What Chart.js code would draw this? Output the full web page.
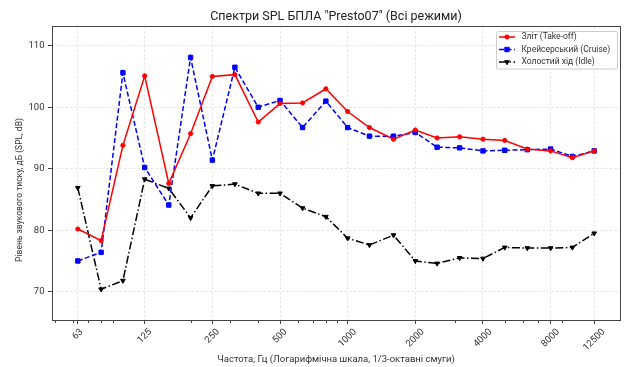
<!DOCTYPE html>
<html>
<head>
<meta charset="utf-8">
<script src="https://cdn.jsdelivr.net/npm/chart.js@4.4.1/dist/chart.umd.min.js"></script>
<style>
  html, body { margin: 0; padding: 0; background: #ffffff; }
  #wrap { width: 625px; height: 367px; }
</style>
</head>
<body>
<div id="wrap"><canvas id="c" width="625" height="367"></canvas></div>
<script>
// 1/3-octave band centre frequencies, Hz
const bands = [63, 80, 100, 125, 160, 200, 250, 315, 400, 500, 630, 800,
               1000, 1250, 1600, 2000, 2500, 3150, 4000, 5000, 6300, 8000, 10000, 12500];

// SPL per band, dB
const takeoff = [80.2, 78.3, 93.8, 105.1, 87.6, 95.7, 105.0, 105.3, 97.6, 100.6, 100.7, 103.0,
                 99.3, 96.7, 94.8, 96.3, 95.0, 95.2, 94.8, 94.6, 93.2, 92.9, 91.8, 92.9];
const cruise  = [75.0, 76.4, 105.6, 90.2, 84.1, 108.1, 91.4, 106.5, 100.0, 101.1, 96.7, 101.0,
                 96.7, 95.3, 95.3, 95.9, 93.5, 93.4, 92.9, 93.0, 93.1, 93.2, 92.0, 92.9];
const idle    = [86.9, 70.4, 71.8, 88.3, 86.8, 82.0, 87.2, 87.5, 86.0, 86.0, 83.6, 82.2,
                 78.7, 77.6, 79.2, 75.0, 74.6, 75.5, 75.4, 77.2, 77.1, 77.1, 77.2, 79.5];

const seriesNames = ['Зліт (Take-off)', 'Крейсерський (Cruise)', 'Холостий хід (Idle)'];
const xTickValues = [63, 125, 250, 500, 1000, 2000, 4000, 8000, 12500];
const xTickLabels = ['63', '125', '250', '500', '1000', '2000', '4000', '8000', '12500'];
const yTickValues = [70, 80, 90, 100, 110];

const titleText = 'Спектри SPL БПЛА "Presto07" (Всі режими)';
const xTitle = 'Частота, Гц (Логарифмічна шкала, 1/3-октавні смуги)';
const yTitle = 'Рівень звукового тиску, дБ (SPL, dB)';

const FONT = 'Roboto, "Open Sans", "DejaVu Sans", sans-serif';
const TEXT = '#333333';

const allValues = takeoff.concat(cruise, idle);
const yMin = Math.min(...allValues) - 5;
const yMax = Math.max(...allValues) + 5;
// x limits padded by 5% of the log span on each side
const span = Math.log2(bands[bands.length - 1] / bands[0]);
const xMin = bands[0] / Math.pow(2, 0.05 * span);
const xMax = bands[bands.length - 1] * Math.pow(2, 0.05 * span);

const toPoints = vals => bands.map((f, i) => ({ x: f, y: vals[i] }));

const styles = [
  { color: '#ff0000', dash: [], pointStyle: 'circle', radius: 2.1, rotation: 0 },
  { color: '#0000ff', dash: [5, 2.5], pointStyle: 'rect', radius: 3.1, rotation: 0 },
  { color: '#000000', dash: [8, 2.5, 1.5, 2.5], pointStyle: 'triangle', radius: 2.7, rotation: 180 }
];
const seriesValues = [takeoff, cruise, idle];

const datasets = seriesValues.map((vals, i) => ({
  label: seriesNames[i],
  data: toPoints(vals),
  borderColor: styles[i].color,
  backgroundColor: styles[i].color,
  borderWidth: 1.5,
  borderDash: styles[i].dash,
  pointStyle: styles[i].pointStyle,
  pointRadius: styles[i].radius,
  pointRotation: styles[i].rotation,
  pointBackgroundColor: styles[i].color,
  pointBorderColor: styles[i].color,
  pointBorderWidth: 1,
  tension: 0,
  fill: false
}));

// frame, minor ticks, rotated x labels, y title and legend box
const overlay = {
  id: 'overlay',
  afterDraw(chart) {
    const { ctx, chartArea: a, scales: { x } } = chart;
    ctx.save();

    // axes frame on all four sides
    const L = Math.floor(a.left) + 0.5, T = Math.floor(a.top) + 0.5;
    const R = Math.floor(a.right) + 0.5, B = Math.floor(a.bottom) + 0.5;
    ctx.strokeStyle = '#444444';
    ctx.lineWidth = 1;
    ctx.setLineDash([]);
    ctx.strokeRect(L, T, R - L, B - T);

    // minor log ticks
    ctx.beginPath();
    for (let k = 1; k <= 4; k++) {
      for (let m = 2; m <= 9; m++) {
        const v = m * Math.pow(10, k);
        if (v < xMin || v > xMax || xTickValues.includes(v)) continue;
        const px = Math.round(x.getPixelForValue(v)) + 0.5;
        ctx.moveTo(px, B);
        ctx.lineTo(px, B + 2.5);
      }
    }
    ctx.stroke();

    // rotated x tick labels, centred under each tick
    ctx.fillStyle = TEXT;
    ctx.font = '9.5px ' + FONT;
    ctx.textAlign = 'center';
    ctx.textBaseline = 'middle';
    const labelTop = a.bottom + 8;
    xTickValues.forEach((v, i) => {
      const txt = xTickLabels[i];
      const w = ctx.measureText(txt).width;
      const h = 7;
      const box = (w + h) * Math.SQRT1_2;
      const cx = x.getPixelForValue(v);
      const cy = labelTop + box / 2;
      ctx.save();
      ctx.translate(cx, cy);
      ctx.rotate(-Math.PI / 4);
      ctx.fillText(txt, 0, 0);
      ctx.restore();
    });

    // y axis title
    ctx.save();
    ctx.font = '8.5px ' + FONT;
    ctx.fillStyle = TEXT;
    ctx.translate(20, 190);
    ctx.rotate(-Math.PI / 2);
    ctx.fillText(yTitle, 0, 0);
    ctx.restore();

    // legend
    const bx = 496, by = 31, bw = 121, bh = 37.5;
    ctx.beginPath();
    ctx.roundRect(bx + 0.5, by + 0.5, bw, bh, 2);
    ctx.fillStyle = 'rgba(255,255,255,0.85)';
    ctx.fill();
    ctx.strokeStyle = '#cccccc';
    ctx.lineWidth = 1;
    ctx.stroke();
    const rows = [37, 49.5, 62];
    ctx.font = '8.5px ' + FONT;
    ctx.textAlign = 'left';
    ctx.textBaseline = 'middle';
    styles.forEach((s, i) => {
      const ry = rows[i];
      ctx.strokeStyle = s.color;
      ctx.fillStyle = s.color;
      ctx.lineWidth = 1.5;
      ctx.setLineDash(s.dash.length ? s.dash : []);
      ctx.beginPath();
      ctx.moveTo(499, ry);
      ctx.lineTo(515, ry);
      ctx.stroke();
      ctx.setLineDash([]);
      ctx.lineWidth = 1;
      Chart.helpers.drawPoint(ctx, {
        pointStyle: s.pointStyle, rotation: s.rotation, radius: s.radius, borderWidth: 1
      }, 507, ry);
      ctx.fillStyle = TEXT;
      ctx.fillText(seriesNames[i], 521.5, ry);
    });

    ctx.restore();
  }
};

new Chart(document.getElementById('c'), {
  type: 'line',
  data: { datasets },
  plugins: [overlay],
  options: {
    responsive: false,
    animation: false,
    devicePixelRatio: 1,
    layout: { padding: { left: 0, right: 2, top: 0, bottom: 0 } },
    plugins: {
      legend: { display: false },
      tooltip: { enabled: false },
      title: {
        display: true,
        fullSize: false,
        text: titleText,
        color: '#222222',
        font: { family: FONT, size: 12.5, weight: 'normal' },
        padding: { top: 9.5, bottom: 2.2 }
      }
    },
    scales: {
      x: {
        type: 'logarithmic',
        min: xMin,
        max: xMax,
        afterBuildTicks: s => { s.ticks = xTickValues.map(v => ({ value: v })); },
        afterFit: s => { s.height = 47; },
        ticks: { display: false },
        grid: {
          color: 'rgba(0,0,0,0.13)',
          lineWidth: 0.8,
          tickLength: 4,
          tickColor: '#444444',
          tickWidth: 1
        },
        border: { display: false, dash: [2.5, 2] },
        title: {
          display: true,
          text: xTitle,
          color: TEXT,
          font: { family: FONT, size: 9.5 },
          padding: { top: 0, bottom: 2 }
        }
      },
      y: {
        type: 'linear',
        min: yMin,
        max: yMax,
        afterBuildTicks: s => { s.ticks = yTickValues.map(v => ({ value: v })); },
        afterFit: s => { s.width = 52; },
        ticks: {
          color: TEXT,
          font: { family: FONT, size: 9.5 },
          padding: 3.5
        },
        grid: {
          color: 'rgba(0,0,0,0.13)',
          lineWidth: 0.8,
          tickLength: 4,
          tickColor: '#444444',
          tickWidth: 1
        },
        border: { display: false, dash: [2.5, 2] }
      }
    }
  }
});
</script>
</body>
</html>
